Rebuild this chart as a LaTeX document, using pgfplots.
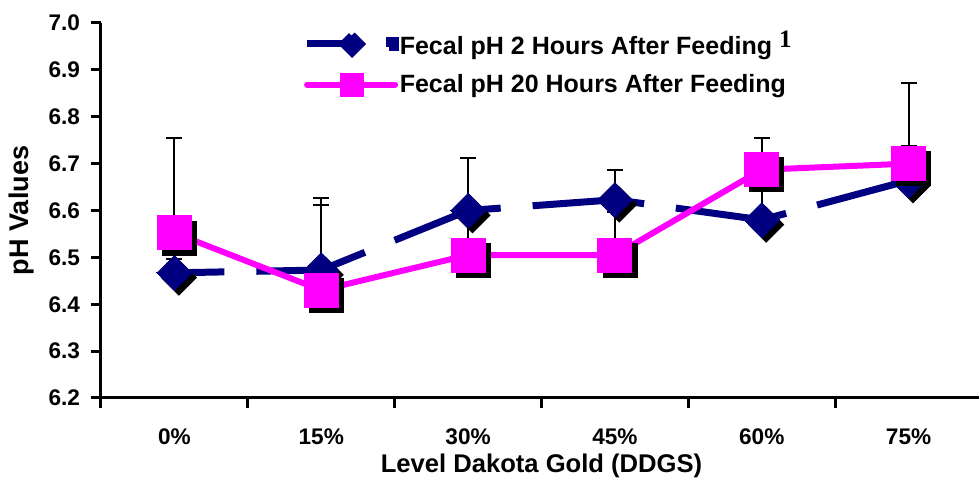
\documentclass[border=0pt]{standalone}
\usepackage{fontspec}
\setmainfont{Liberation Sans}
\newfontfamily\seriffont{Liberation Serif}
\usepackage{pgfplots}
\usepackage{pgfplotstable}
\pgfplotsset{compat=1.18}

\definecolor{navyblue}{RGB}{0,0,128}
\definecolor{pinkline}{RGB}{255,0,255}

% level, 2 h value, 2 h error, 20 h value, 20 h error
\pgfplotstableread{
x  d      de     s      se
0  6.467  0.030  6.552  0.202
1  6.473  0.154  6.430  0.182
2  6.600  0.111  6.505  0.075
3  6.623  0.064  6.505  0.092
4  6.580  0.080  6.687  0.068
5  6.664  0.074  6.700  0.171
}\phdata

\begin{document}
\begin{tikzpicture}
\begin{axis}[
    scale only axis,
    width=440.5pt, height=187.5pt,
    xmin=-0.5, xmax=5.5,
    ymin=6.2, ymax=7.0,
    axis lines=left,
    axis line style={line width=1.5pt, -},
    tick style={line width=1.5pt, black},
    tick align=outside,
    major tick length=5pt,
    minor tick length=5pt,
    xtick={0,1,2,3,4,5},
    xticklabels={0\%,15\%,30\%,45\%,60\%,75\%},
    x tick style={draw=none},
    minor xtick={-0.5,0.5,1.5,2.5,3.5,4.5},
    minor x tick style={draw=black, line width=1.5pt},
    ytick={6.2,6.3,...,7.01},
    yticklabel style={xshift=-2pt, /pgf/number format/fixed, /pgf/number format/fixed zerofill,
        /pgf/number format/precision=1},
    /pgf/number format/assume math mode=true,
    ticklabel style={font=\fontsize{11.3}{13}\selectfont\bfseries},
    xticklabel style={yshift=-7pt},
    xlabel={Level Dakota Gold (DDGS)},
    ylabel={pH Values},
    every axis x label/.style={at={(axis description cs:0.5,0)}, yshift=-34pt, anchor=center,
        font=\fontsize{12.8}{14}\selectfont\bfseries},
    every axis y label/.style={at={(axis description cs:0,0.5)}, xshift=-39.5pt, rotate=90, anchor=center,
        font=\fontsize{13.5}{15}\selectfont\bfseries},
    legend style={at={(rel axis cs:0.2295,0.984)}, anchor=north west, draw=none, fill=none,
        font=\fontsize{12.5}{14}\selectfont\bfseries, row sep=7pt, inner sep=0pt,
        nodes={inner sep=0.6pt}},
    legend cell align=left,
    clip=false,
]

% error bars (upper only), drawn first
\addplot[draw=none, forget plot, error bars/.cd, y dir=plus, y explicit,
    error bar style={black, line width=1pt},
    error mark options={rotate=90, mark size=4pt, black, line width=1pt}]
    table[x=x, y=d, y error=de] {\phdata};
\addplot[draw=none, forget plot, error bars/.cd, y dir=plus, y explicit,
    error bar style={black, line width=1pt},
    error mark options={rotate=90, mark size=4pt, black, line width=1pt}]
    table[x=x, y=s, y error=se] {\phdata};

% 2 hours: shadow, then line and markers
\addplot[only marks, forget plot, mark=square*, mark size=6.2pt,
    mark options={xshift=2.2pt, yshift=-2.4pt, rotate=45, fill=black, draw=black}]
    table[x=x, y=d] {\phdata};
\addplot[navyblue, line width=3.5pt, dash pattern=on 56pt off 16pt, dash phase=31pt,
    mark=square*, mark size=6.2pt,
    mark options={solid, rotate=45, fill=navyblue, draw=navyblue, line width=0pt},
    legend image code/.code={
        \draw[navyblue, line width=3.5pt, solid] (0pt,0pt) -- (27pt,0pt);
        \fill[navyblue] (22.5pt,4.5pt) -- (27pt,0pt) -- (22.5pt,-4.5pt) -- (18pt,0pt) -- cycle;
        \fill[navyblue] (41pt,-1.6pt) rectangle (44pt,1.6pt);
    }]
    table[x=x, y=d] {\phdata};
\addlegendentry{Fecal pH 2 Hours After Feeding \raisebox{0.55ex}{\seriffont\fontsize{12.5}{14}\selectfont 1}}

% 20 hours: shadow, then line and markers
\addplot[only marks, forget plot, mark=square*, mark size=8.5pt,
    mark options={xshift=2.5pt, yshift=-2.5pt, fill=black, draw=black}]
    table[x=x, y=s] {\phdata};
\addplot[pinkline, line width=3pt,
    mark=square*, mark size=8.5pt,
    mark options={fill=pinkline, draw=pinkline, line width=0pt},
    legend image code/.code={
        \draw[pinkline, line width=3pt, line cap=round] (0pt,0pt) -- (44pt,0pt);
        \fill[pinkline] (18pt,-4.5pt) rectangle (27pt,4.5pt);
    }]
    table[x=x, y=s] {\phdata};
\addlegendentry{Fecal pH 20 Hours After Feeding}

\end{axis}
\pgfresetboundingbox
\path (-50.5pt,-41.5pt) rectangle (439pt,199pt);
\end{tikzpicture}
\end{document}
